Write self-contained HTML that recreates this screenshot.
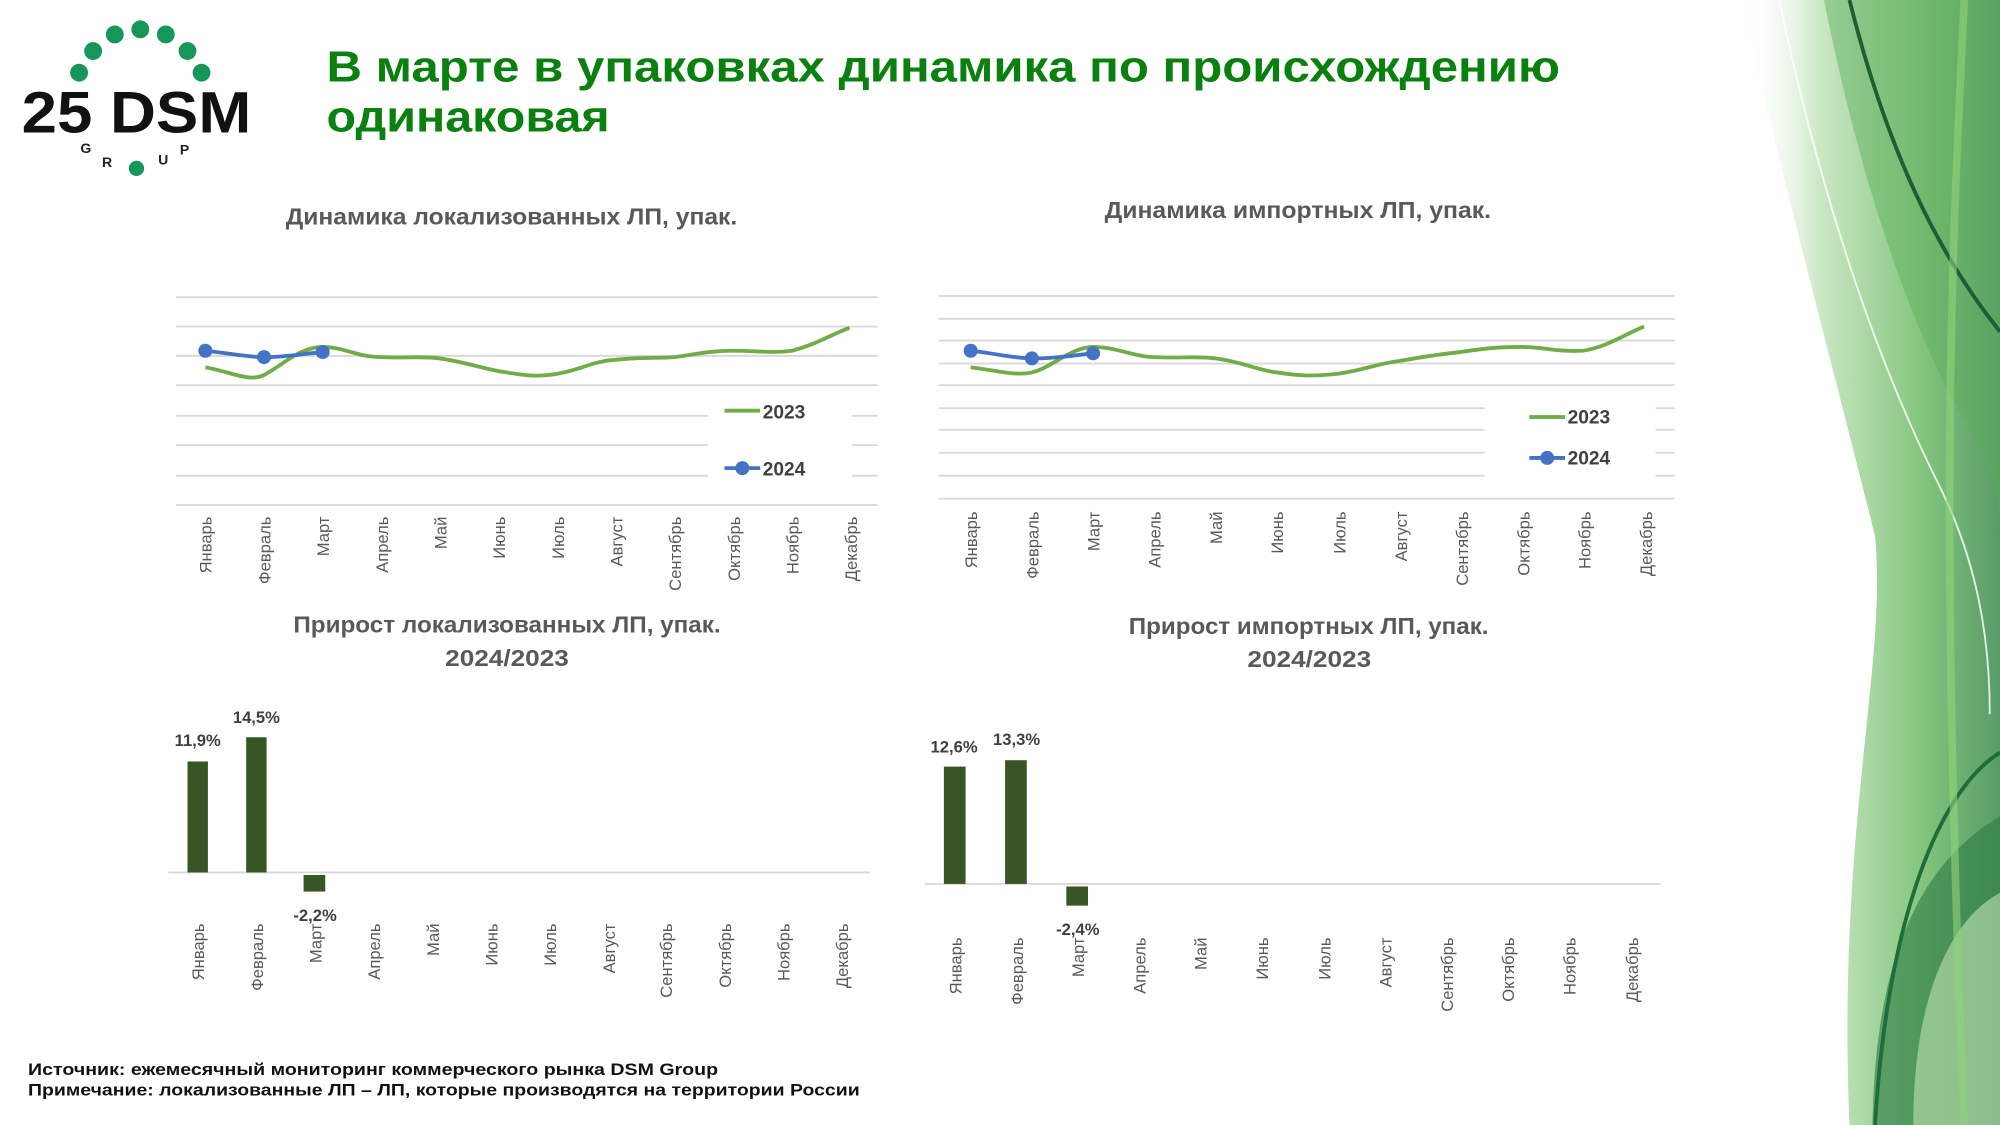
<!DOCTYPE html>
<html><head><meta charset="utf-8"><style>
html,body{margin:0;padding:0;background:#fff;}
svg{display:block;}
text{font-family:"Liberation Sans","DejaVu Sans",sans-serif;}
</style></head><body>
<svg width="2000" height="1125" viewBox="0 0 1568 882" xmlns="http://www.w3.org/2000/svg">
<defs>
<linearGradient id="g1" x1="0" y1="0" x2="1" y2="0">
<stop offset="0" stop-color="#ffffff" stop-opacity="0"/>
<stop offset="0.3" stop-color="#c4e4bc"/>
<stop offset="0.7" stop-color="#6dbb66"/>
<stop offset="1" stop-color="#3a8a4e"/>
</linearGradient>
</defs>
<!-- decoration -->
<path d="M1365,0 C1400,150 1440,300 1470,420 C1480,520 1440,650 1450,882 L1568,882 L1568,0 Z" fill="url(#g1)" opacity="0.85"/>
<path d="M1430,0 C1460,150 1500,260 1540,330 C1568,380 1568,400 1568,420 L1568,0 Z" fill="#5cae5a" opacity="0.45"/>
<path d="M1468,882 C1470,760 1500,680 1568,640 L1568,882 Z" fill="#2b7a45" opacity="0.6"/>
<path d="M1500,882 C1500,780 1530,720 1568,700 L1568,882 Z" fill="#bfe3b0" opacity="0.6"/>
<path d="M1450,0 C1480,120 1520,200 1568,260" stroke="#1f5e34" stroke-width="3" fill="none"/>
<path d="M1470,882 C1480,720 1520,620 1568,590" stroke="#1f6e3a" stroke-width="3" fill="none"/>
<path d="M1395,0 C1420,120 1460,260 1520,380 C1550,440 1560,500 1560,560" stroke="#ffffff" stroke-width="1.5" fill="none" opacity="0.8"/>
<path d="M1540,0 C1530,200 1520,400 1540,882" stroke="#8fd37a" stroke-width="6" fill="none" opacity="0.6"/>

<!-- logo -->
<g fill="#17965a">
<circle cx="110" cy="23" r="7"/><circle cx="90" cy="27" r="7"/><circle cx="130" cy="27" r="7"/>
<circle cx="73" cy="40" r="7"/><circle cx="147" cy="40" r="7"/>
<circle cx="62" cy="57" r="7"/><circle cx="158" cy="57" r="7"/>
<circle cx="107" cy="132" r="6"/>
</g>
<text x="17" y="104" font-size="46" font-weight="bold" fill="#111" textLength="180" lengthAdjust="spacingAndGlyphs">25 DSM</text>
<text x="63" y="120" font-size="11" font-weight="bold" fill="#222">G</text>
<text x="80" y="131" font-size="11" font-weight="bold" fill="#222">R</text>
<text x="124" y="129" font-size="11" font-weight="bold" fill="#222">U</text>
<text x="141" y="121" font-size="11" font-weight="bold" fill="#222">P</text>

<!-- title -->
<text x="256" y="64" font-size="34" font-weight="bold" fill="#0a800f" textLength="967" lengthAdjust="spacingAndGlyphs">В марте в упаковках динамика по происхождению</text>
<text x="256" y="103" font-size="34" font-weight="bold" fill="#0a800f" textLength="222" lengthAdjust="spacingAndGlyphs">одинаковая</text>

<!-- left line chart -->
<text x="224" y="176" font-size="18" font-weight="bold" fill="#595959" textLength="354" lengthAdjust="spacingAndGlyphs">Динамика локализованных ЛП, упак.</text>
<g stroke="#d9d9d9" stroke-width="1.5">
<line x1="138" y1="233" x2="688" y2="233"/><line x1="138" y1="256" x2="688" y2="256"/>
<line x1="138" y1="279" x2="688" y2="279"/><line x1="138" y1="302" x2="688" y2="302"/>
<line x1="138" y1="326" x2="688" y2="326"/><line x1="138" y1="349" x2="688" y2="349"/>
<line x1="138" y1="373" x2="688" y2="373"/><line x1="138" y1="396" x2="688" y2="396"/>
</g>
<rect x="555" y="305" width="113" height="82" fill="#fff"/>
<path d="M161,288 C180,291 195,300 207,294 C222,286 235,272 253,272 C270,272 280,280 299,280 C320,281 330,279 345,281 C365,284 375,288 391,291 C410,294 420,296 437,293 C455,290 465,283 483,282 C500,280 515,281 529,280 C545,278 555,275 575,275 C595,275 605,277 621,275 C640,270 650,263 666,257" stroke="#70ad47" stroke-width="3" fill="none"/>
<path d="M161,275 C180,277 195,280 207,280 C225,280 240,277 253,276" stroke="#4472c4" stroke-width="3" fill="none"/>
<g fill="#4472c4"><circle cx="161" cy="275" r="5.5"/><circle cx="207" cy="280" r="5.5"/><circle cx="253" cy="276" r="5.5"/></g>
<line x1="568" y1="322" x2="596" y2="322" stroke="#70ad47" stroke-width="3"/>
<text x="598" y="328" font-size="15" font-weight="bold" fill="#404040">2023</text>
<line x1="568" y1="367" x2="596" y2="367" stroke="#4472c4" stroke-width="3"/><circle cx="582" cy="367" r="5.5" fill="#4472c4"/>
<text x="598" y="373" font-size="15" font-weight="bold" fill="#404040">2024</text>
<g font-size="13" fill="#595959" text-anchor="end">
<text transform="translate(166,405) rotate(-90)">Январь</text>
<text transform="translate(212,405) rotate(-90)">Февраль</text>
<text transform="translate(258,405) rotate(-90)">Март</text>
<text transform="translate(304,405) rotate(-90)">Апрель</text>
<text transform="translate(350,405) rotate(-90)">Май</text>
<text transform="translate(396,405) rotate(-90)">Июнь</text>
<text transform="translate(442,405) rotate(-90)">Июль</text>
<text transform="translate(488,405) rotate(-90)">Август</text>
<text transform="translate(534,405) rotate(-90)">Сентябрь</text>
<text transform="translate(580,405) rotate(-90)">Октябрь</text>
<text transform="translate(626,405) rotate(-90)">Ноябрь</text>
<text transform="translate(672,405) rotate(-90)">Декабрь</text>
</g>

<!-- right line chart -->
<text x="866" y="171" font-size="18" font-weight="bold" fill="#595959" textLength="303" lengthAdjust="spacingAndGlyphs">Динамика импортных ЛП, упак.</text>
<g stroke="#d9d9d9" stroke-width="1.5">
<line x1="736" y1="232" x2="1313" y2="232"/><line x1="736" y1="250" x2="1313" y2="250"/>
<line x1="736" y1="267" x2="1313" y2="267"/><line x1="736" y1="285" x2="1313" y2="285"/>
<line x1="736" y1="302" x2="1313" y2="302"/><line x1="736" y1="320" x2="1313" y2="320"/>
<line x1="736" y1="337" x2="1313" y2="337"/><line x1="736" y1="355" x2="1313" y2="355"/>
<line x1="736" y1="373" x2="1313" y2="373"/><line x1="736" y1="391" x2="1313" y2="391"/>
</g>
<rect x="1164" y="306" width="134" height="70" fill="#fff"/>
<path d="M761,288 C780,290 795,295 809,292 C825,288 840,272 857,272 C875,272 890,280 905,280 C925,281 940,279 953,281 C975,284 985,290 1001,292 C1020,295 1030,295 1049,293 C1070,290 1080,285 1097,283 C1115,280 1125,278 1145,276 C1165,273 1175,272 1193,272 C1210,272 1220,276 1241,275 C1260,272 1272,263 1289,256" stroke="#70ad47" stroke-width="3" fill="none"/>
<path d="M761,275 C780,277 795,281 809,281 C825,281 840,279 857,277" stroke="#4472c4" stroke-width="3" fill="none"/>
<g fill="#4472c4"><circle cx="761" cy="275" r="5.5"/><circle cx="809" cy="281" r="5.5"/><circle cx="857" cy="277" r="5.5"/></g>
<line x1="1199" y1="327" x2="1227" y2="327" stroke="#70ad47" stroke-width="3"/>
<text x="1229" y="332" font-size="15" font-weight="bold" fill="#404040">2023</text>
<line x1="1199" y1="359" x2="1227" y2="359" stroke="#4472c4" stroke-width="3"/><circle cx="1213" cy="359" r="5.5" fill="#4472c4"/>
<text x="1229" y="364" font-size="15" font-weight="bold" fill="#404040">2024</text>
<g font-size="13" fill="#595959" text-anchor="end">
<text transform="translate(766,401) rotate(-90)">Январь</text>
<text transform="translate(814,401) rotate(-90)">Февраль</text>
<text transform="translate(862,401) rotate(-90)">Март</text>
<text transform="translate(910,401) rotate(-90)">Апрель</text>
<text transform="translate(958,401) rotate(-90)">Май</text>
<text transform="translate(1006,401) rotate(-90)">Июнь</text>
<text transform="translate(1055,401) rotate(-90)">Июль</text>
<text transform="translate(1103,401) rotate(-90)">Август</text>
<text transform="translate(1151,401) rotate(-90)">Сентябрь</text>
<text transform="translate(1199,401) rotate(-90)">Октябрь</text>
<text transform="translate(1247,401) rotate(-90)">Ноябрь</text>
<text transform="translate(1295,401) rotate(-90)">Декабрь</text>
</g>

<!-- bottom left bar -->
<text x="230" y="496" font-size="18" font-weight="bold" fill="#595959" textLength="335" lengthAdjust="spacingAndGlyphs">Прирост локализованных ЛП, упак.</text>
<text x="349" y="522" font-size="18" font-weight="bold" fill="#595959" textLength="97" lengthAdjust="spacingAndGlyphs">2024/2023</text>
<line x1="132" y1="684" x2="682" y2="684" stroke="#d9d9d9" stroke-width="1.5"/>
<g fill="#375623">
<rect x="147" y="597" width="16" height="87"/>
<rect x="193" y="578" width="16" height="106"/>
<rect x="238" y="686" width="17" height="13"/>
</g>
<g font-size="13" font-weight="bold" fill="#404040" text-anchor="middle">
<text x="155" y="585">11,9%</text><text x="201" y="567">14,5%</text><text x="247" y="722">-2,2%</text>
</g>
<g font-size="13" fill="#595959" text-anchor="end">
<text transform="translate(160,724) rotate(-90)">Январь</text>
<text transform="translate(206,724) rotate(-90)">Февраль</text>
<text transform="translate(252,724) rotate(-90)">Март</text>
<text transform="translate(298,724) rotate(-90)">Апрель</text>
<text transform="translate(344,724) rotate(-90)">Май</text>
<text transform="translate(390,724) rotate(-90)">Июнь</text>
<text transform="translate(436,724) rotate(-90)">Июль</text>
<text transform="translate(482,724) rotate(-90)">Август</text>
<text transform="translate(527,724) rotate(-90)">Сентябрь</text>
<text transform="translate(573,724) rotate(-90)">Октябрь</text>
<text transform="translate(619,724) rotate(-90)">Ноябрь</text>
<text transform="translate(665,724) rotate(-90)">Декабрь</text>
</g>

<!-- bottom right bar -->
<text x="885" y="497" font-size="18" font-weight="bold" fill="#595959" textLength="282" lengthAdjust="spacingAndGlyphs">Прирост импортных ЛП, упак.</text>
<text x="978" y="523" font-size="18" font-weight="bold" fill="#595959" textLength="97" lengthAdjust="spacingAndGlyphs">2024/2023</text>
<line x1="725" y1="693" x2="1302" y2="693" stroke="#d9d9d9" stroke-width="1.5"/>
<g fill="#375623">
<rect x="740" y="601" width="17" height="92"/>
<rect x="788" y="596" width="17" height="97"/>
<rect x="836" y="695" width="17" height="15"/>
</g>
<g font-size="13" font-weight="bold" fill="#404040" text-anchor="middle">
<text x="748" y="590">12,6%</text><text x="797" y="584">13,3%</text><text x="845" y="733">-2,4%</text>
</g>
<g font-size="13" fill="#595959" text-anchor="end">
<text transform="translate(754,735) rotate(-90)">Январь</text>
<text transform="translate(802,735) rotate(-90)">Февраль</text>
<text transform="translate(850,735) rotate(-90)">Март</text>
<text transform="translate(898,735) rotate(-90)">Апрель</text>
<text transform="translate(946,735) rotate(-90)">Май</text>
<text transform="translate(994,735) rotate(-90)">Июнь</text>
<text transform="translate(1043,735) rotate(-90)">Июль</text>
<text transform="translate(1091,735) rotate(-90)">Август</text>
<text transform="translate(1139,735) rotate(-90)">Сентябрь</text>
<text transform="translate(1187,735) rotate(-90)">Октябрь</text>
<text transform="translate(1235,735) rotate(-90)">Ноябрь</text>
<text transform="translate(1284,735) rotate(-90)">Декабрь</text>
</g>

<!-- footer -->
<text x="22" y="843" font-size="13" font-weight="bold" fill="#111" textLength="541" lengthAdjust="spacingAndGlyphs">Источник: ежемесячный мониторинг коммерческого рынка DSM Group</text>
<text x="22" y="859" font-size="13" font-weight="bold" fill="#111" textLength="652" lengthAdjust="spacingAndGlyphs">Примечание: локализованные ЛП – ЛП, которые производятся на территории России</text>
</svg>
</body></html>
